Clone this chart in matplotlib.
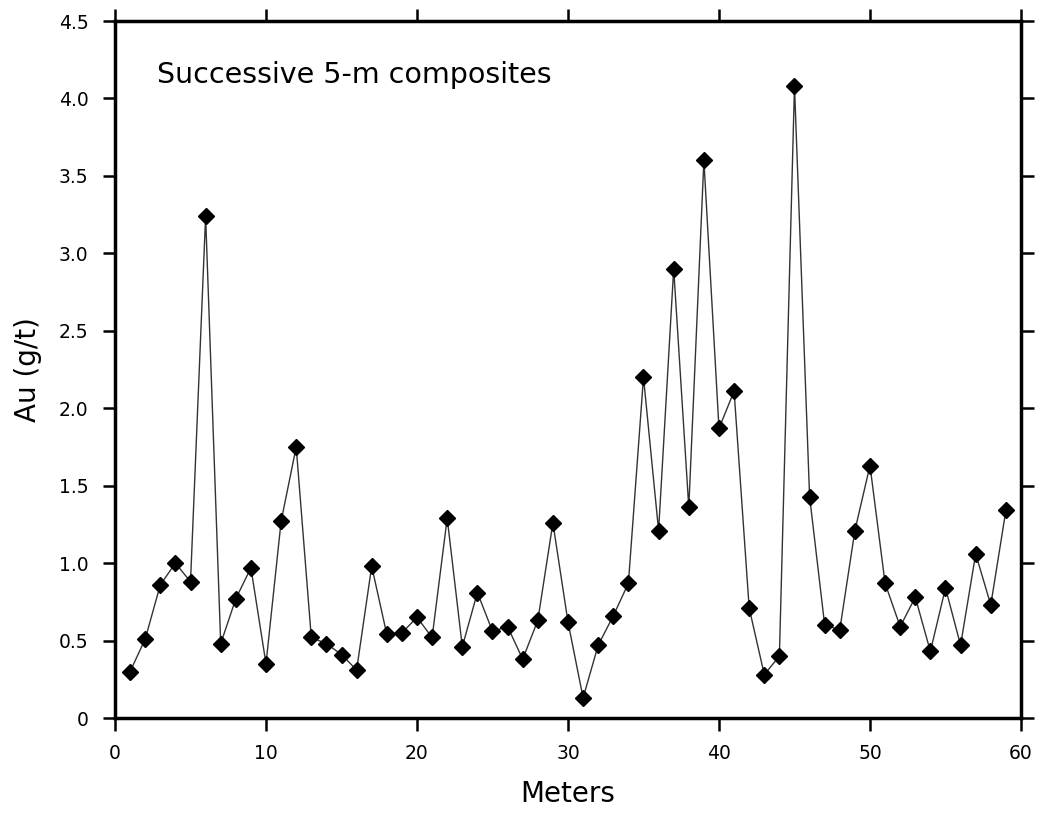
import matplotlib
matplotlib.use('Agg')
import matplotlib.pyplot as plt
from matplotlib.ticker import FuncFormatter

# Au grades of successive 5-m composites
meters = list(range(1, 60))
au = [0.30, 0.51, 0.86, 1.00, 0.88, 3.24, 0.48, 0.77, 0.97, 0.35,
      1.27, 1.75, 0.52, 0.48, 0.41, 0.31, 0.98, 0.54, 0.55, 0.65,
      0.52, 1.29, 0.46, 0.81, 0.56, 0.59, 0.38, 0.63, 1.26, 0.62,
      0.13, 0.47, 0.66, 0.87, 2.20, 1.21, 2.90, 1.36, 3.60, 1.87,
      2.11, 0.71, 0.28, 0.40, 4.08, 1.43, 0.60, 0.57, 1.21, 1.63,
      0.87, 0.59, 0.78, 0.43, 0.84, 0.47, 1.06, 0.73, 1.34]

x_ticks = [0, 10, 20, 30, 40, 50, 60]
y_ticks = [0, 0.5, 1.0, 1.5, 2.0, 2.5, 3.0, 3.5, 4.0, 4.5]

plt.rcParams['font.family'] = ['DejaVu Sans']

fig = plt.figure(figsize=(10.38, 8.14), dpi=100)
ax = fig.add_axes([0.1108, 0.1179, 0.8728, 0.8563])

ax.plot(meters, au, color='#333333', linewidth=1.0, marker='D', markersize=8,
        markerfacecolor='black', markeredgecolor='black', zorder=3)

ax.set_xlim(0, 60)
ax.set_ylim(0, 4.5)
ax.set_xticks(x_ticks)
ax.set_yticks(y_ticks)
ax.yaxis.set_major_formatter(FuncFormatter(lambda v, p: '0' if v == 0 else f'{v:.1f}'))

for s in ax.spines.values():
    s.set_linewidth(2.5)
ax.tick_params(direction='out', length=9, width=1.8, labelsize=13.5, pad=10,
               top=True, right=True, labeltop=False, labelright=False)

ax.set_xlabel('Meters', fontsize=20, labelpad=12)
ax.set_ylabel('Au (g/t)', fontsize=20, labelpad=12)

ax.text(0.046, 0.922, 'Successive 5-m composites', transform=ax.transAxes,
        fontsize=20.5, ha='left', va='center')

fig.savefig('out.png', dpi=100)
plt.close(fig)
